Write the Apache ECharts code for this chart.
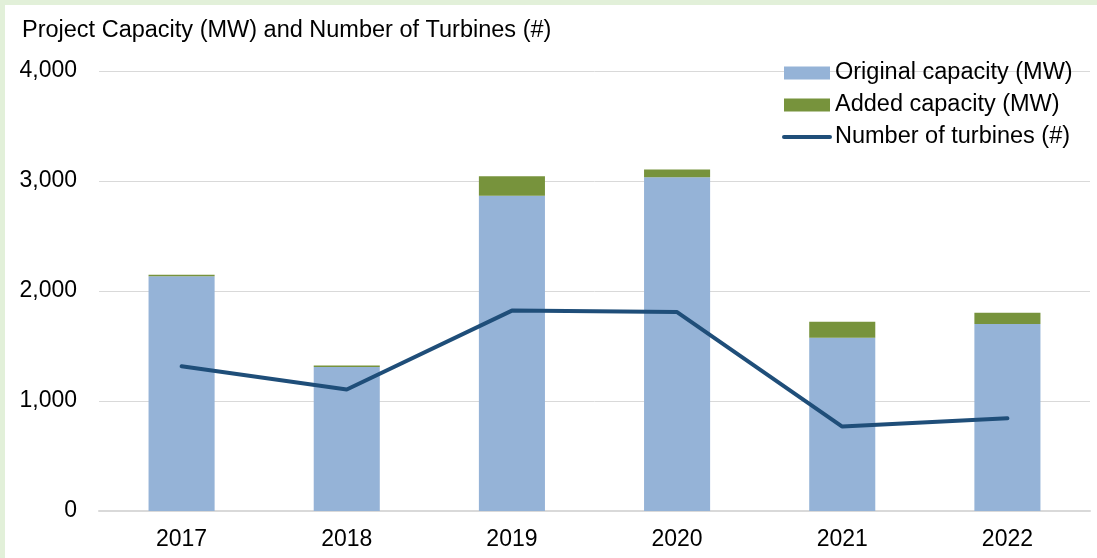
<!DOCTYPE html>
<html>
<head>
<meta charset="utf-8">
<script src="https://cdn.jsdelivr.net/npm/echarts@6/dist/echarts.min.js"></script>
<style>
  html, body { margin: 0; padding: 0; background: #e2f0d9; }
  #chart { position: absolute; left: 5px; top: 5px; width: 1092px; height: 553px; background: #ffffff; }
</style>
</head>
<body>
<div id="chart"></div>
<script>
// Project capacity by year, split into original and added MW, with turbine counts
const years = ['2017', '2018', '2019', '2020', '2021', '2022'];
const originalCapacity = [2135, 1310, 2865, 3035, 1575, 1700];
const addedCapacity = [12, 12, 178, 70, 146, 103];
const turbines = [1315, 1105, 1822, 1808, 768, 843];

const FONT = 'Liberation Sans, Arial, sans-serif';
const LINE_COLOR = '#1f4e79';
const chart = echarts.init(document.getElementById('chart'), null, { renderer: 'canvas' });

chart.setOption({
  animation: false,
  textStyle: { fontFamily: FONT, color: '#000' },
  title: {
    text: 'Project Capacity (MW) and Number of Turbines (#)',
    left: 17,
    top: 14,
    padding: 0,
    textStyle: { fontFamily: FONT, fontSize: 23.5, fontWeight: 'normal', color: '#000' }
  },
  legend: {
    orient: 'vertical',
    left: 777,
    top: 56,
    padding: 0,
    itemWidth: 46,
    itemHeight: 13,
    itemGap: 8,
    textStyle: { fontFamily: FONT, fontSize: 23.5, color: '#000', lineHeight: 22 },
    data: [
      { name: 'Original capacity (MW)', icon: 'rect' },
      { name: 'Added capacity (MW)', icon: 'rect' },
      {
        name: 'Number of turbines (#)',
        itemStyle: { opacity: 0 },
        lineStyle: { color: LINE_COLOR, width: 4, cap: 'round' }
      }
    ]
  },
  grid: { left: 94, right: 7, top: 66, bottom: 47, containLabel: false },
  xAxis: {
    type: 'category',
    data: years,
    axisLine: { lineStyle: { color: '#d9d9d9', width: 2 } },
    axisTick: { show: false },
    axisLabel: { fontFamily: FONT, fontSize: 23, color: '#000', margin: 17 }
  },
  yAxis: {
    type: 'value',
    min: 0,
    max: 4000,
    interval: 1000,
    axisLine: { show: false },
    axisTick: { show: false },
    splitLine: { lineStyle: { color: '#d9d9d9', width: 1 } },
    axisLabel: {
      fontFamily: FONT, fontSize: 23, color: '#000', margin: 22,
      formatter: v => v.toLocaleString('en-US')
    }
  },
  series: [
    {
      name: 'Original capacity (MW)',
      type: 'bar',
      stack: 'cap',
      barWidth: '40%',
      itemStyle: { color: '#95b3d7' },
      data: originalCapacity
    },
    {
      name: 'Added capacity (MW)',
      type: 'bar',
      stack: 'cap',
      barWidth: '40%',
      itemStyle: { color: '#77933c' },
      data: addedCapacity
    },
    {
      name: 'Number of turbines (#)',
      type: 'line',
      symbol: 'none',
      smooth: false,
      lineStyle: { color: LINE_COLOR, width: 4, cap: 'round' },
      itemStyle: { color: LINE_COLOR },
      z: 5,
      data: turbines
    }
  ]
});
</script>
</body>
</html>
